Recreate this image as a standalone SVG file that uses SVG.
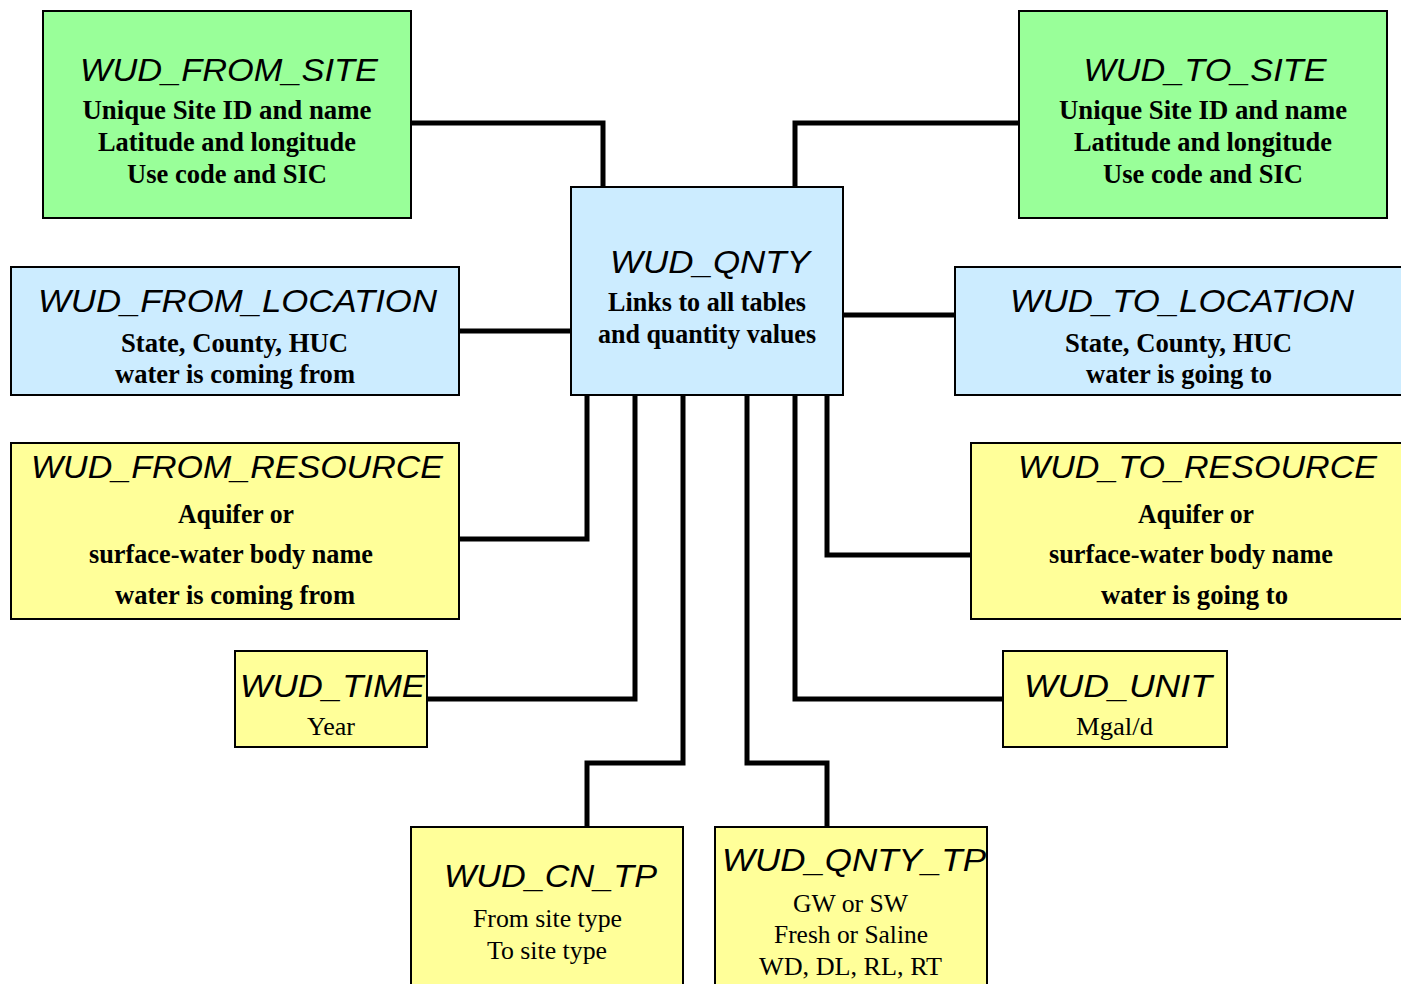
<svg xmlns="http://www.w3.org/2000/svg" width="1401" height="984" viewBox="0 0 1401 984">
  <style>
    .box { stroke: #000; stroke-width: 2; }
    .green { fill: #99FF99; }
    .blue { fill: #CCECFF; }
    .yellow { fill: #FFFF99; }
    .t { font-family: "Liberation Sans", Arial, sans-serif; font-style: italic; font-size: 32px; fill: #000; text-anchor: middle; }
    .b { font-family: "Liberation Serif", "Times New Roman", serif; font-weight: bold; font-size: 27px; fill: #000; text-anchor: middle; }
    .r { font-family: "Liberation Serif", "Times New Roman", serif; font-size: 26px; fill: #000; text-anchor: middle; }
    .link { fill: none; stroke: #000; stroke-width: 5; stroke-linejoin: miter; }
  </style>

  <rect width="1401" height="984" fill="#fff"/>

  <!-- links between the central table and its lookup tables -->
  <g id="connectors" class="link">
    <path d="M411,123 H603 V187"/>
    <path d="M1019,123 H795 V187"/>
    <path d="M459,331 H571"/>
    <path d="M843,315 H955"/>
    <path d="M459,539 H587 V395"/>
    <path d="M971,555 H827 V395"/>
    <path d="M427,699 H635 V395"/>
    <path d="M1003,699 H795 V395"/>
    <path d="M587,827 V763 H683 V395"/>
    <path d="M827,827 V763 H747 V395"/>
  </g>

  <g id="wud_from_site">
    <rect class="box green" x="43" y="11" width="368" height="207"/>
    <text class="t" x="229" y="81" textLength="298" lengthAdjust="spacingAndGlyphs">WUD_FROM_SITE</text>
    <text class="b" x="227" y="119" textLength="289" lengthAdjust="spacingAndGlyphs">Unique Site ID and name</text>
    <text class="b" x="227" y="151" textLength="258" lengthAdjust="spacingAndGlyphs">Latitude and longitude</text>
    <text class="b" x="227" y="183" textLength="200" lengthAdjust="spacingAndGlyphs">Use code and SIC</text>
  </g>

  <g id="wud_to_site">
    <rect class="box green" x="1019" y="11" width="368" height="207"/>
    <text class="t" x="1205" y="81" textLength="243" lengthAdjust="spacingAndGlyphs">WUD_TO_SITE</text>
    <text class="b" x="1203" y="119" textLength="288" lengthAdjust="spacingAndGlyphs">Unique Site ID and name</text>
    <text class="b" x="1203" y="151" textLength="258" lengthAdjust="spacingAndGlyphs">Latitude and longitude</text>
    <text class="b" x="1203" y="183" textLength="200" lengthAdjust="spacingAndGlyphs">Use code and SIC</text>
  </g>

  <g id="wud_qnty">
    <rect class="box blue" x="571" y="187" width="272" height="208"/>
    <text class="t" x="710" y="273" textLength="200" lengthAdjust="spacingAndGlyphs">WUD_QNTY</text>
    <text class="b" x="707" y="311" textLength="198" lengthAdjust="spacingAndGlyphs">Links to all tables</text>
    <text class="b" x="707" y="343" textLength="218" lengthAdjust="spacingAndGlyphs">and quantity values</text>
  </g>

  <g id="wud_from_location">
    <rect class="box blue" x="11" y="267" width="448" height="128"/>
    <text class="t" x="237.5" y="312" textLength="399" lengthAdjust="spacingAndGlyphs">WUD_FROM_LOCATION</text>
    <text class="b" x="234.5" y="352" textLength="227" lengthAdjust="spacingAndGlyphs">State, County, HUC</text>
    <text class="b" x="235" y="383" textLength="240" lengthAdjust="spacingAndGlyphs">water is coming from</text>
  </g>

  <g id="wud_to_location">
    <rect class="box blue" x="955" y="267" width="460" height="128"/>
    <text class="t" x="1182" y="312" textLength="344" lengthAdjust="spacingAndGlyphs">WUD_TO_LOCATION</text>
    <text class="b" x="1178.5" y="352" textLength="227" lengthAdjust="spacingAndGlyphs">State, County, HUC</text>
    <text class="b" x="1179" y="383" textLength="186" lengthAdjust="spacingAndGlyphs">water is going to</text>
  </g>

  <g id="wud_from_resource">
    <rect class="box yellow" x="11" y="443" width="448" height="176"/>
    <text class="t" x="237" y="478" textLength="412" lengthAdjust="spacingAndGlyphs">WUD_FROM_RESOURCE</text>
    <text class="b" x="236" y="523" textLength="116" lengthAdjust="spacingAndGlyphs">Aquifer or</text>
    <text class="b" x="231" y="563" textLength="284" lengthAdjust="spacingAndGlyphs">surface-water body name</text>
    <text class="b" x="235" y="604" textLength="240" lengthAdjust="spacingAndGlyphs">water is coming from</text>
  </g>

  <g id="wud_to_resource">
    <rect class="box yellow" x="971" y="443" width="444" height="176"/>
    <text class="t" x="1197.5" y="478" textLength="359" lengthAdjust="spacingAndGlyphs">WUD_TO_RESOURCE</text>
    <text class="b" x="1196" y="523" textLength="116" lengthAdjust="spacingAndGlyphs">Aquifer or</text>
    <text class="b" x="1191" y="563" textLength="284" lengthAdjust="spacingAndGlyphs">surface-water body name</text>
    <text class="b" x="1194.5" y="604" textLength="187" lengthAdjust="spacingAndGlyphs">water is going to</text>
  </g>

  <g id="wud_time">
    <rect class="box yellow" x="235" y="651" width="192" height="96"/>
    <text class="t" x="332.5" y="697" textLength="185" lengthAdjust="spacingAndGlyphs">WUD_TIME</text>
    <text class="r" x="331" y="735" textLength="48" lengthAdjust="spacingAndGlyphs">Year</text>
  </g>

  <g id="wud_unit">
    <rect class="box yellow" x="1003" y="651" width="224" height="96"/>
    <text class="t" x="1118" y="697" textLength="188" lengthAdjust="spacingAndGlyphs">WUD_UNIT</text>
    <text class="r" x="1114.5" y="735" textLength="77" lengthAdjust="spacingAndGlyphs">Mgal/d</text>
  </g>

  <g id="wud_cn_tp">
    <rect class="box yellow" x="411" y="827" width="272" height="170"/>
    <text class="t" x="550.5" y="887" textLength="213" lengthAdjust="spacingAndGlyphs">WUD_CN_TP</text>
    <text class="r" x="547.5" y="927" textLength="149" lengthAdjust="spacingAndGlyphs">From site type</text>
    <text class="r" x="547" y="959" textLength="120" lengthAdjust="spacingAndGlyphs">To site type</text>
  </g>

  <g id="wud_qnty_tp">
    <rect class="box yellow" x="715" y="827" width="272" height="170"/>
    <text class="t" x="854" y="871" textLength="264" lengthAdjust="spacingAndGlyphs">WUD_QNTY_TP</text>
    <text class="r" x="850.5" y="912" textLength="115" lengthAdjust="spacingAndGlyphs">GW or SW</text>
    <text class="r" x="851" y="943" textLength="154" lengthAdjust="spacingAndGlyphs">Fresh or Saline</text>
    <text class="r" x="850.5" y="975" textLength="183" lengthAdjust="spacingAndGlyphs">WD, DL, RL, RT</text>
  </g>
</svg>
